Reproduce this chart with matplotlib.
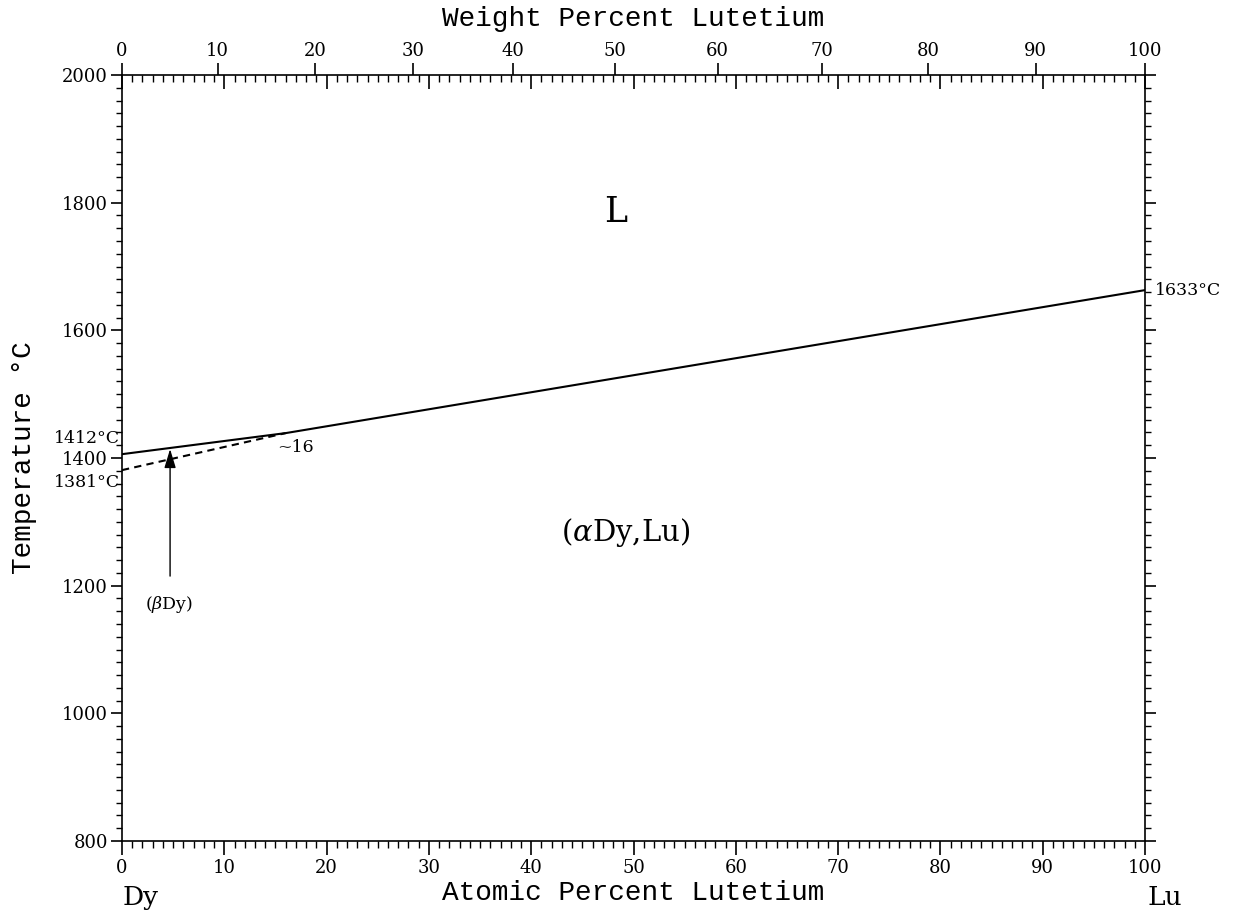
import numpy as np
from matplotlib import pyplot as plt
from matplotlib.ticker import MultipleLocator, FixedLocator, NullFormatter, NullLocator

plt.rcParams['font.family'] = ['DejaVu Serif']
plt.rcParams['mathtext.fontset'] = 'dejavuserif'

# atomic masses used for the weight percent scale on top
m_dy = 162.50
m_lu = 174.967

# liquidus / solidus (single line), at.% Lu vs temperature
liq_at = [0, 16, 100]
liq_T = [1406, 1439, 1663]

# beta Dy -> alpha Dy transus (dashed)
trans_at = [0, 16]
trans_T = [1381, 1439]

wt_ticks = np.arange(0, 101, 10)


def wt_to_at(w):
    w = np.asarray(w, dtype=float)
    a = w / m_lu
    b = (100 - w) / m_dy
    return 100 * a / (a + b)


fig = plt.figure(figsize=(12.33, 9.17), dpi=100)
ax = fig.add_axes([122/1233, 76/917, 1023/1233, 766/917])

ax.plot(liq_at, liq_T, color='k', lw=1.5)
ax.plot(trans_at, trans_T, color='k', lw=1.5, ls=(0, (3.5, 2.5)))

ax.annotate('', xy=(4.7, 1414), xytext=(4.7, 1215),
            arrowprops=dict(arrowstyle='-|>,head_length=1.15,head_width=0.35',
                            color='k', lw=1, shrinkA=0, shrinkB=0))

ax.set_xlim(0, 100)
ax.set_ylim(800, 2000)

for s in ax.spines.values():
    s.set_linewidth(1.2)

# bottom: atomic percent, ticks outward
ax.xaxis.set_major_locator(MultipleLocator(10))
ax.xaxis.set_minor_locator(MultipleLocator(1))
ax.tick_params(axis='x', which='major', direction='out', length=10, width=1.2,
               labelsize=13, pad=3)
ax.tick_params(axis='x', which='minor', direction='out', length=5, width=1)

# left / right: temperature, ticks outward both sides
ax.yaxis.set_major_locator(MultipleLocator(200))
ax.yaxis.set_minor_locator(MultipleLocator(20))
ax.tick_params(axis='y', which='both', left=True, right=True, direction='out')
ax.tick_params(axis='y', which='major', length=8, width=1.2, labelsize=13, pad=2)
ax.tick_params(axis='y', which='minor', length=4, width=1)

# top inward atomic ticks (mirror of the bottom scale)
ax3 = ax.twiny()
ax3.set_xlim(ax.get_xlim())
ax3.xaxis.set_major_locator(MultipleLocator(10))
ax3.xaxis.set_minor_locator(MultipleLocator(1))
ax3.xaxis.set_major_formatter(NullFormatter())
ax3.tick_params(axis='x', which='major', direction='in', length=10, width=1.2)
ax3.tick_params(axis='x', which='minor', direction='in', length=5, width=1)
for s in ax3.spines.values():
    s.set_visible(False)

# top: weight percent scale, ticks outward with labels
ax2 = ax.twiny()
ax2.set_xlim(ax.get_xlim())
ax2.xaxis.set_major_locator(FixedLocator(wt_to_at(wt_ticks)))
ax2.xaxis.set_minor_locator(NullLocator())
ax2.set_xticklabels([str(v) for v in wt_ticks])
ax2.tick_params(axis='x', which='major', direction='out', length=9, width=1.2,
                labelsize=13, pad=2)
for s in ax2.spines.values():
    s.set_visible(False)

mono = 'Liberation Mono'
ax.set_xlabel('Atomic Percent Lutetium', family=mono, fontsize=20, va='center')
ax.xaxis.set_label_coords(0.5, -0.068)
ax.set_ylabel('Temperature °C', family=mono, fontsize=20, va='center')
ax.yaxis.set_label_coords(-0.096, 0.5)
ax2.set_xlabel('Weight Percent Lutetium', family=mono, fontsize=20, va='center')
ax2.xaxis.set_label_position('top')
ax2.xaxis.set_label_coords(0.5, 1.064)

tr = ax.get_xaxis_transform()
ax.text(0.1, -0.074, 'Dy', transform=tr, fontsize=19, ha='left', va='center')
ax.text(100.2, -0.074, 'Lu', transform=tr, fontsize=19, ha='left', va='center')

ax.text(-0.2, 1431, '1412°C', fontsize=12.5, ha='right', va='center', clip_on=False)
ax.text(-0.2, 1361, '1381°C', fontsize=12.5, ha='right', va='center', clip_on=False)
ax.text(101.0, 1662, '1633°C', fontsize=12.5, ha='left', va='center', clip_on=False)
ax.text(15.2, 1417, '~16', fontsize=12.5, ha='left', va='center')
ax.text(4.6, 1170, r'($\beta$Dy)', fontsize=12.5, ha='center', va='center')
ax.text(49.2, 1284, r'($\alpha$Dy,Lu)', fontsize=21, ha='center', va='center')
ax.text(48.3, 1785, 'L', fontsize=25, ha='center', va='center')

fig.savefig('out.png', dpi=100)
